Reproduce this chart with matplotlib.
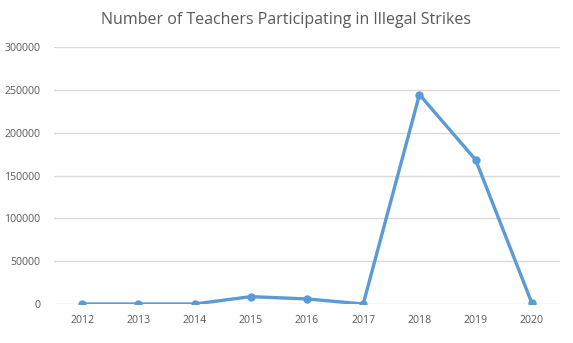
import matplotlib
matplotlib.use("Agg")
import matplotlib.pyplot as plt

years = ["2012", "2013", "2014", "2015", "2016", "2017", "2018", "2019", "2020"]
teachers = [0, 0, 0, 8600, 5900, 0, 244500, 168200, 1000]
y_ticks = [0, 50000, 100000, 150000, 200000, 250000, 300000]

plt.rcParams['font.family'] = ['Open Sans', 'DejaVu Sans']

fig = plt.figure(figsize=(5.73, 3.43), dpi=100)
ax = fig.add_axes([54/573, 1 - 304/343, (560 - 54)/573, (304 - 47)/343])

x = range(len(years))
ax.plot(x, teachers, color='#5B9BD5', linewidth=2.4, marker='o', markersize=5,
        solid_capstyle='round', solid_joinstyle='round', zorder=3)

ax.set_xlim(-0.5, len(years) - 0.5)
ax.set_ylim(0, 300000)
ax.set_xticks(list(x))
ax.set_xticklabels(years)
ax.set_yticks(y_ticks)
ax.set_yticklabels([str(v) for v in y_ticks])
ax.tick_params(length=0, labelsize=7.6, labelcolor='#595959', pad=8)
ax.tick_params(axis='y', pad=10)
ax.grid(axis='y', color='#D9D9D9', linewidth=1)
ax.set_axisbelow(True)
for s in ax.spines.values():
    s.set_visible(False)

fig.text(286/573, 1 - 20/343, "Number of Teachers Participating in Illegal Strikes",
         ha='center', va='center', fontsize=11.5, color='#595959')

fig.savefig("out.png", dpi=100)
